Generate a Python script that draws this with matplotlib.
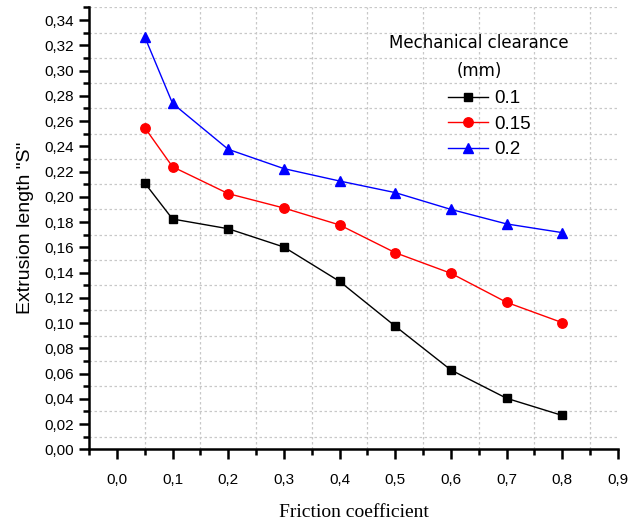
import matplotlib
matplotlib.use("Agg")
import matplotlib.pyplot as plt
from matplotlib.ticker import FixedLocator, FuncFormatter
import numpy as np

friction = [0.05, 0.1, 0.2, 0.3, 0.4, 0.5, 0.6, 0.7, 0.8]
s_01 = [0.211, 0.1824, 0.1747, 0.1602, 0.1330, 0.0975, 0.0628, 0.0404, 0.0268]
s_015 = [0.2548, 0.2238, 0.2025, 0.1911, 0.1777, 0.1557, 0.1394, 0.1164, 0.1003]
s_02 = [0.3268, 0.2740, 0.2376, 0.2223, 0.2125, 0.2033, 0.1900, 0.1785, 0.1716]
labels = ["0.1", "0.15", "0.2"]
legend_title = "Mechanical clearance\n(mm)"

fig = plt.figure(figsize=(6.42, 5.23), dpi=100)
ax = fig.add_axes([89/642, 73.7/523, (618-89)/642, (449.3-7.4)/523])

ax.plot(friction, s_01, color="black", lw=1, marker="s", ms=6, label=labels[0])
ax.plot(friction, s_015, color="red", lw=1, marker="o", ms=6.8, label=labels[1])
ax.plot(friction, s_02, color="blue", lw=1, marker="^", ms=7.5, label=labels[2])

ax.set_xlim(-0.05, 0.9)
ax.set_ylim(0, 0.35)

xmaj = np.round(np.arange(0, 0.91, 0.1), 2)
xmin = np.round(np.arange(-0.05, 0.91, 0.1), 2)
ymaj = np.round(np.arange(0, 0.341, 0.02), 2)
ymin = np.round(np.arange(0.01, 0.351, 0.02), 2)
ax.xaxis.set_major_locator(FixedLocator(xmaj))
ax.xaxis.set_minor_locator(FixedLocator(xmin))
ax.yaxis.set_major_locator(FixedLocator(ymaj))
ax.yaxis.set_minor_locator(FixedLocator(ymin))
ax.xaxis.set_major_formatter(FuncFormatter(lambda v, p: f"{v:.1f}".replace(".", ",")))
ax.yaxis.set_major_formatter(FuncFormatter(lambda v, p: f"{v:.2f}".replace(".", ",")))

ax.grid(which="minor", color="#c8c8c8", linestyle=(0, (2, 2)), linewidth=0.9)
ax.grid(which="major", visible=False)

for side in ["top", "right"]:
    ax.spines[side].set_visible(False)
for side in ["left", "bottom"]:
    ax.spines[side].set_linewidth(1.8)

ax.tick_params(which="major", direction="out", length=7, width=1.8, labelsize=11,
               labelfontfamily="Liberation Sans", colors="black")
ax.tick_params(which="minor", direction="out", length=4, width=1.8)
ax.tick_params(axis="x", which="major", pad=10)

ax.set_ylabel('Extrusion length "S"', fontsize=14, family="Liberation Sans", labelpad=8)
ax.set_xlabel("Friction coefficient", fontsize=14, family="Liberation Serif", labelpad=12)

ax.text(0.737, 0.888, legend_title, transform=ax.transAxes, ha="center", va="center",
        multialignment="center", linespacing=1.75, fontsize=12, family="DejaVu Sans")

leg = ax.legend(loc="upper left", bbox_to_anchor=(0.679, 0.813), frameon=False,
                prop={"family": "Liberation Sans", "size": 13.5},
                handlelength=2.1, handletextpad=0.35, labelspacing=0.45,
                borderaxespad=0, borderpad=0)

fig.savefig("out.png", dpi=100)
